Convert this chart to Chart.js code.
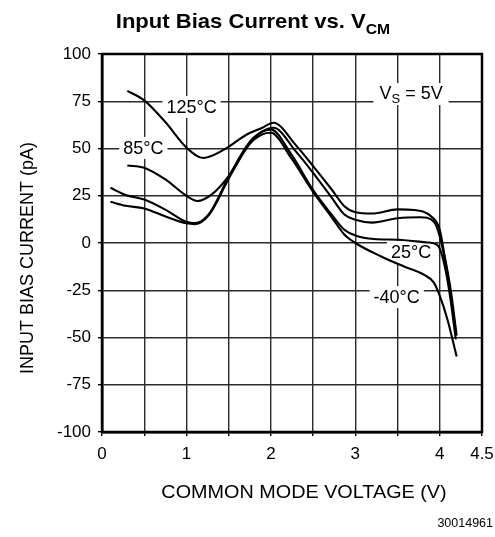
<!DOCTYPE html>
<html>
<head>
<meta charset="utf-8">
<script src="https://cdn.jsdelivr.net/npm/chart.js@4.4.1/dist/chart.umd.min.js"></script>
<style>
  html, body { margin: 0; padding: 0; background: #fff; }
  #wrap { width: 495px; height: 537px; }
</style>
</head>
<body>
<div id="wrap"><canvas id="biasChart" width="495" height="537"></canvas></div>
<script>
// input bias current (pA) vs common mode voltage (V), Vs = 5V
const vcm125 = [0.3, 0.5, 0.75, 1.0, 1.2, 1.45, 1.7, 1.9, 2.03, 2.3, 2.5, 2.72, 2.87, 3.0, 3.2, 3.5, 3.7, 3.9, 4.0, 4.05, 4.13, 4.2];
const ib125 = [80.5, 75.5, 64, 50.5, 45, 49.5, 57, 61, 63.6, 51.5, 40.7, 28.3, 19.5, 16.3, 15.6, 17.8, 17.5, 14, 7, -5, -25, -49];

const vcm85 = [0.3, 0.5, 0.75, 1.0, 1.13, 1.3, 1.5, 1.74, 1.9, 2.03, 2.3, 2.5, 2.72, 2.87, 3.0, 3.2, 3.5, 3.77, 3.93, 4.0, 4.09, 4.19];
const ib85 = [41, 39.8, 33.6, 25, 22.2, 25.7, 35.4, 52, 59, 61, 48.2, 37.1, 24, 15.1, 12.3, 10.8, 13.1, 13.6, 11.3, 3.5, -16, -47];

const vcm25 = [0.1, 0.28, 0.5, 0.76, 1.0, 1.1, 1.27, 1.5, 1.74, 1.9, 2.0, 2.24, 2.5, 2.72, 2.87, 3.0, 3.22, 3.5, 3.85, 3.97, 4.03, 4.11, 4.19];
const ib25 = [29.2, 25.4, 23, 17.4, 11.2, 10.5, 15.5, 35, 53, 59, 60, 47, 28, 15, 7, 4, 2.1, 1.7, 0.3, -1, -7, -24.6, -51];

const vcmM40 = [0.1, 0.28, 0.5, 0.76, 1.0, 1.1, 1.27, 1.5, 1.74, 1.9, 2.0, 2.24, 2.5, 2.72, 2.87, 3.0, 3.3, 3.57, 3.81, 3.93, 4.0, 4.09, 4.2];
const ibM40 = [21.8, 19.7, 18.3, 13.9, 10.4, 10, 15, 34, 52, 57.5, 58.3, 45, 27, 13.6, 4.5, 0, -7, -12.3, -16.7, -21, -28, -40.3, -60];

const xLabelTicks = [0, 1, 2, 3, 4, 4.5];

// curve labels: [text, vcm, pA]
const curveLabels = [
  ['125°C', 1.06, 72],
  ['85°C', 0.49, 50.3],
  ['25°C', 3.66, -4.8],
  ['-40°C', 3.49, -28.6]
];

const FONT = "'Liberation Sans', Arial, Helvetica, sans-serif";

function toPoints(xs, ys) {
  return xs.map((x, i) => ({ x: x, y: ys[i] }));
}

function curve(label, xs, ys) {
  return {
    label: label,
    data: toPoints(xs, ys),
    borderColor: '#000',
    borderWidth: 2.1,
    pointRadius: 0,
    fill: false,
    cubicInterpolationMode: 'monotone'
  };
}

// draws a run of [text, isSubscript] pieces starting at x, baseline y
function drawRuns(ctx, runs, x, y, size, bold) {
  let cx = x;
  runs.forEach(([txt, sub]) => {
    const fs = sub ? Math.round(size * 0.72) : size;
    ctx.font = (bold ? 'bold ' : '') + fs + 'px ' + FONT;
    ctx.fillText(txt, cx, sub ? y + size * 0.28 : y);
    cx += ctx.measureText(txt).width;
  });
  return cx - x;
}

function runsWidth(ctx, runs, size, bold) {
  let w = 0;
  runs.forEach(([txt, sub]) => {
    const fs = sub ? Math.round(size * 0.72) : size;
    ctx.font = (bold ? 'bold ' : '') + fs + 'px ' + FONT;
    w += ctx.measureText(txt).width;
  });
  return w;
}

const framePlugin = {
  id: 'frameAndLabels',
  beforeDatasetsDraw(chart) {
    const { ctx, chartArea: a, scales: { x, y } } = chart;
    ctx.save();
    ctx.strokeStyle = '#000';
    ctx.lineWidth = 2.5;
    ctx.strokeRect(a.left, a.top, a.right - a.left, a.bottom - a.top);

    ctx.textBaseline = 'middle';
    ctx.textAlign = 'left';
    const size = 18;
    curveLabels.forEach(([txt, vx, vy]) => {
      ctx.font = size + 'px ' + FONT;
      const w = ctx.measureText(txt).width;
      const px = x.getPixelForValue(vx);
      const py = y.getPixelForValue(vy);
      ctx.fillStyle = '#fff';
      ctx.fillRect(px - w / 2 - 4, py - 11, w + 8, 22);
      ctx.fillStyle = '#000';
      ctx.fillText(txt, px - w / 2, py + 1);
    });

    // supply label
    const vs = [['V', false], ['S', true], [' = 5V', false]];
    const vw = runsWidth(ctx, vs, size, false);
    const vx = x.getPixelForValue(3.66);
    const vy = y.getPixelForValue(78.8);
    ctx.fillStyle = '#fff';
    ctx.fillRect(vx - vw / 2 - 6, vy - 11, vw + 12, 22);
    ctx.fillStyle = '#000';
    drawRuns(ctx, vs, vx - vw / 2, vy, size, false);
    ctx.restore();
  },
  afterDraw(chart) {
    const { ctx, chartArea: a } = chart;
    ctx.save();
    ctx.fillStyle = '#000';
    ctx.textBaseline = 'alphabetic';
    ctx.textAlign = 'left';

    // title
    const title = [['Input Bias Current vs. V', false], ['CM', true]];
    const tw = runsWidth(ctx, title, 21, true);
    ctx.save();
    ctx.translate(253, 28);
    ctx.scale(1.05, 1);
    drawRuns(ctx, title, -tw / 2, 0, 21, true);
    ctx.restore();

    // axis titles
    ctx.font = '18px ' + FONT;
    ctx.textAlign = 'center';
    ctx.save();
    ctx.translate((a.left + a.right) / 2 + 12, 498);
    ctx.scale(1.1, 1);
    ctx.fillText('COMMON MODE VOLTAGE (V)', 0, 0);
    ctx.restore();

    ctx.save();
    ctx.translate(33, (a.top + a.bottom) / 2 + 15);
    ctx.rotate(-Math.PI / 2);
    ctx.fillText('INPUT BIAS CURRENT (pA)', 0, 0);
    ctx.restore();

    ctx.font = '12.5px ' + FONT;
    ctx.textAlign = 'right';
    ctx.fillText('30014961', 493, 527);
    ctx.restore();
  }
};

const gridColor = '#2a2a2a';

new Chart(document.getElementById('biasChart'), {
  type: 'line',
  data: {
    datasets: [
      curve('125°C', vcm125, ib125),
      curve('85°C', vcm85, ib85),
      curve('25°C', vcm25, ib25),
      curve('-40°C', vcmM40, ibM40)
    ]
  },
  options: {
    responsive: false,
    animation: false,
    events: [],
    layout: { padding: { top: 54, right: 13, left: 0, bottom: 0 } },
    plugins: {
      legend: { display: false },
      tooltip: { enabled: false },
      title: { display: false }
    },
    scales: {
      x: {
        type: 'linear',
        min: 0,
        max: 4.5,
        afterFit(scale) {
          scale.height = 105;
          scale.paddingLeft = 0;
          scale.paddingRight = 0;
        },
        afterBuildTicks(scale) {
          const t = [];
          for (let v = 0; v <= 4.5001; v += 0.5) t.push({ value: Math.round(v * 10) / 10 });
          scale.ticks = t;
        },
        ticks: {
          autoSkip: false,
          maxRotation: 0,
          padding: 8,
          color: '#000',
          font: { family: FONT, size: 17 },
          callback: (v) => xLabelTicks.includes(v) ? String(v) : ''
        },
        grid: { color: gridColor, lineWidth: 1.4, tickLength: 4, tickColor: '#000' },
        border: { color: '#000', width: 2.5 }
      },
      y: {
        min: -100,
        max: 100,
        afterFit(scale) {
          scale.width = 102;
          scale.paddingTop = 0;
          scale.paddingBottom = 0;
        },
        ticks: {
          stepSize: 25,
          padding: 7,
          color: '#000',
          font: { family: FONT, size: 17 }
        },
        grid: { color: gridColor, lineWidth: 1.4, tickLength: 4, tickColor: '#000' },
        border: { color: '#000', width: 2.5 }
      }
    }
  },
  plugins: [framePlugin]
});
</script>
</body>
</html>
